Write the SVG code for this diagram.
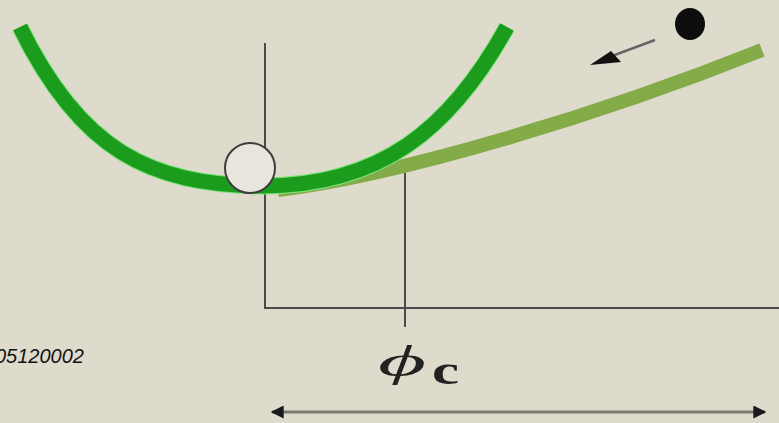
<svg xmlns="http://www.w3.org/2000/svg" width="779" height="423" viewBox="0 0 779 423">
<defs>
<style>
.ax{stroke:#4a4a4a;stroke-width:2;fill:none}
.lbl{font-family:"Liberation Sans",Arial,sans-serif;font-style:italic;fill:#111}
</style>
<marker id="ah" viewBox="0 0 10 10" refX="9" refY="5" markerWidth="22" markerHeight="13" orient="auto-start-reverse" markerUnits="userSpaceOnUse">
<path d="M0,0 L10,5 L0,10 Z" fill="#1a1a1a"/>
</marker>
</defs>
<rect width="779" height="423" fill="#dedbcd"/>
<g id="axes">
<path class="ax" d="M265,43 V308 H779"/>
<path class="ax" d="M405,160 V327"/>
</g>
<g id="curves">
<path d="M278,190 C400,175 600,115 762,50" fill="none" stroke="#83ab48" stroke-width="14"/>
<path d="M20,27 C80,150 150,185 262,186 C380,186 450,130 507,27" fill="none" stroke="#7ee07a" stroke-width="17"/>
<path d="M20,27 C80,150 150,185 262,186 C380,186 450,130 507,27" fill="none" stroke="#1c9c1c" stroke-width="15"/>
</g>
<g id="particle">
<circle cx="250" cy="168" r="25" fill="#e8e5dd" stroke="#3c3c3c" stroke-width="2"/>
</g>
<g id="ball">
<ellipse cx="690" cy="24" rx="15" ry="16" fill="#0d0d0d"/>
</g>
<g id="connectors">
<line x1="655" y1="40" x2="604" y2="59" stroke="#666" stroke-width="2.5"/>
<path d="M590,65 L611,51 L621,62 Z" fill="#111"/>
<line x1="272" y1="412" x2="765" y2="412" stroke="#7a7a72" stroke-width="3" marker-start="url(#ah)" marker-end="url(#ah)"/>
</g>
<g id="labels">
<text class="lbl" x="-5" y="363" font-size="20">05120002</text>
<text x="378" y="376" font-family="'Liberation Serif','DejaVu Serif',serif" font-style="italic" font-size="44" fill="#222" textLength="48" lengthAdjust="spacingAndGlyphs">ϕ</text>
<text x="432" y="384" font-family="'Liberation Serif','DejaVu Serif',serif" font-weight="bold" font-size="40" fill="#222" textLength="27" lengthAdjust="spacingAndGlyphs">c</text>
</g>
</svg>
